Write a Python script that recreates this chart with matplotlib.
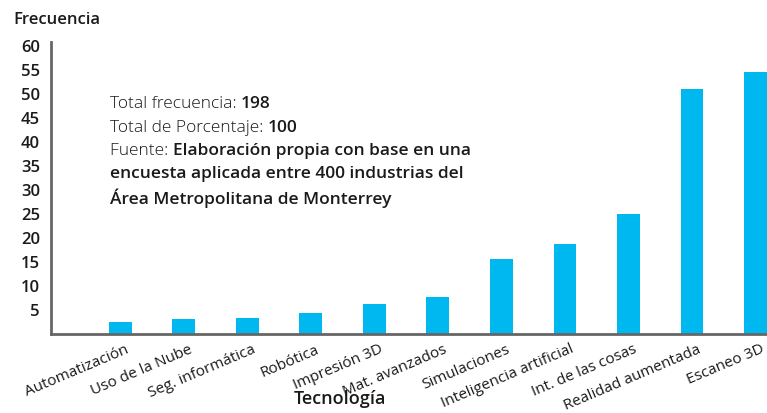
import matplotlib
matplotlib.use("Agg")
import matplotlib.pyplot as plt
from matplotlib.transforms import ScaledTranslation

categorias = [
    "Automatización", "Uso de la Nube", "Seg. informática", "Robótica",
    "Impresión 3D", "Mat. avanzados", "Simulaciones", "Inteligencia artificial",
    "Int. de las cosas", "Realidad aumentada", "Escaneo 3D",
]
frecuencia = [2.4, 3.1, 3.3, 4.2, 6.2, 7.5, 15.6, 18.7, 24.8, 51.0, 54.5]
y_ticks = [5, 10, 15, 20, 25, 30, 35, 40, 45, 50, 55, 60]

nota = [
    [("Total frecuencia: ", "light"), ("198", "semibold")],
    [("Total de Porcentaje: ", "light"), ("100", "semibold")],
    [("Fuente: ", "light"), ("Elaboración propia con base en una", "semibold")],
    [("encuesta aplicada entre 400 industrias del", "semibold")],
    [("Área Metropolitana de Monterrey", "semibold")],
]

AZUL = "#00B8F0"
TEXTO = "#1a1a1a"
plt.rcParams["font.family"] = ["Open Sans", "DejaVu Sans"]

W, H = 767, 414
fig = plt.figure(figsize=(W / 100, H / 100), dpi=100)
ax = fig.add_axes([51 / W, 1 - 334.5 / H, 1 - 51 / W, (334.5 - 43) / H])

x = list(range(len(categorias)))
ax.bar(x, frecuencia, width=0.36, color=AZUL, zorder=2)

ax.set_xlim(-1.09, 10.18)
ax.set_ylim(0, 60.7)
ax.set_yticks(y_ticks)
ax.set_yticklabels([str(v) for v in y_ticks], fontsize=12, color=TEXTO, fontweight="semibold")
ax.set_xticks(x)
ax.set_xticklabels(categorias, rotation=23, ha="right", rotation_mode="anchor",
                   fontsize=11, color=TEXTO)
ax.tick_params(axis="both", length=0)
ax.tick_params(axis="y", pad=8)
ax.tick_params(axis="x", pad=4)

# desplazar un poco las etiquetas a la derecha, como en el original
desplaza = ScaledTranslation(5 / 100, -2 / 100, fig.dpi_scale_trans)
for lbl in ax.get_xticklabels():
    lbl.set_transform(lbl.get_transform() + desplaza)

for side in ["top", "right"]:
    ax.spines[side].set_visible(False)
for side in ["left", "bottom"]:
    ax.spines[side].set_color("#666666")
    ax.spines[side].set_linewidth(2)

fig.text(13 / W, 1 - 20 / H, "Frecuencia", fontsize=12, color=TEXTO,
         fontweight="semibold", va="center", ha="left")
fig.text(340 / W, 1 - 399 / H, "Tecnología", fontsize=13, color=TEXTO,
         fontweight="semibold", va="center", ha="center")

# nota con pesos mezclados
line_y = [104, 128, 151, 174, 198]
for linea, yy in zip(nota, line_y):
    prev = None
    for seg, peso in linea:
        if prev is None:
            prev = fig.text(110 / W, 1 - yy / H, seg, fontsize=12.5, color=TEXTO,
                            fontweight=peso, va="center", ha="left")
        else:
            prev = ax.annotate(seg, xy=(1, 0), xycoords=prev, ha="left", va="bottom",
                               fontsize=12.5, color=TEXTO, fontweight=peso)

fig.savefig("out.png", dpi=100)
